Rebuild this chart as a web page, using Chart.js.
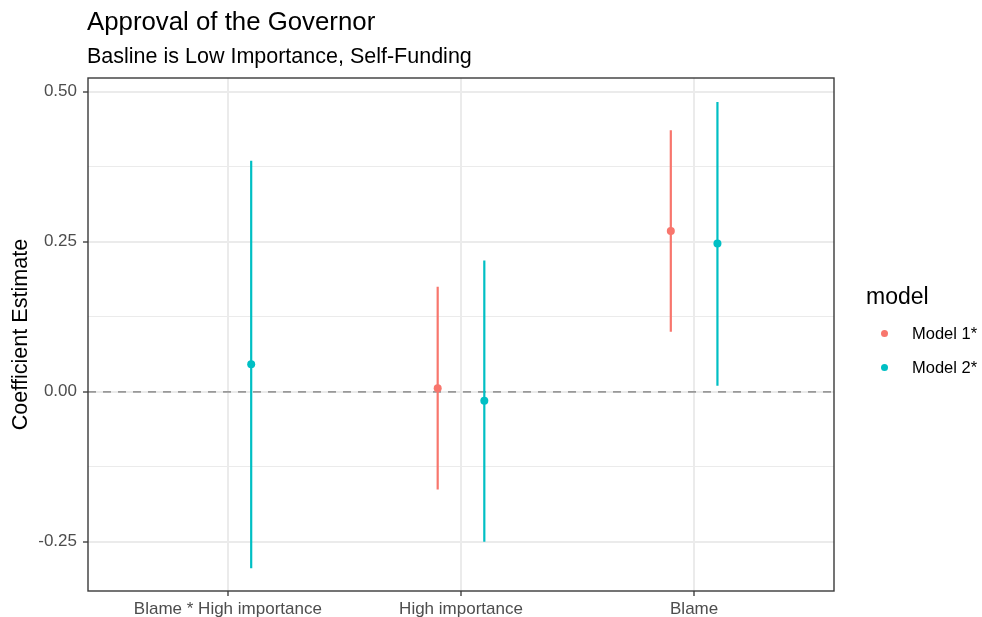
<!DOCTYPE html>
<html>
<head>
<meta charset="utf-8">
<title>Approval of the Governor</title>
<script src="https://cdn.jsdelivr.net/npm/chart.js@4/dist/chart.umd.min.js"></script>
<style>
  html, body { margin: 0; padding: 0; background: #ffffff; }
  #wrap { position: relative; width: 982px; height: 617px; overflow: hidden; font-family: "Liberation Sans", Arial, Helvetica, sans-serif; }
  #chart { position: absolute; left: 0; top: 0; }
  .txt { position: absolute; white-space: nowrap; color: #000; }
  #title { left: 87px; top: 9px; font-size: 25.8px; line-height: 25.8px; }
  #subtitle { left: 87px; top: 46px; font-size: 21.5px; line-height: 21.5px; }
  #legend-title { left: 866px; top: 285px; font-size: 23px; line-height: 23px; }
  .key { position: absolute; width: 7px; height: 7px; border-radius: 50%; }
  .key-label { font-size: 16.5px; line-height: 16.5px; }
</style>
</head>
<body>
<div id="wrap">
  <canvas id="chart" width="982" height="617"></canvas>
  <div class="txt" id="title">Approval of the Governor</div>
  <div class="txt" id="subtitle">Basline is Low Importance, Self-Funding</div>
  <div class="txt" id="legend-title">model</div>
  <div id="legend"></div>
</div>
<script>
// Terms on the x axis
const categories = ['Blame * High importance', 'High importance', 'Blame'];

// Model names and colours
const models = ['Model 1*', 'Model 2*'];
const modelColors = ['#F8766D', '#00BFC4'];

// Model 1 estimates and confidence bounds (interaction term not in Model 1)
const model1Est  = [null, 0.006, 0.268];
const model1Low  = [null, -0.163, 0.100];
const model1High = [null, 0.175, 0.436];

// Model 2 estimates and confidence bounds
const model2Est  = [0.046, -0.015, 0.247];
const model2Low  = [-0.294, -0.250, 0.010];
const model2High = [0.385, 0.219, 0.483];

// Y axis ticks
const yTicks = [-0.25, 0, 0.25, 0.5];
const yTickLabels = ['-0.25', '0.00', '0.25', '0.50'];
const yMinorTicks = [-0.125, 0.125, 0.375];

const dodge = [-0.1, 0.1];
const estimates = [model1Est, model2Est];
const lows = [model1Low, model2Low];
const highs = [model1High, model2High];

function pointData(m) {
  const out = [];
  estimates[m].forEach((v, i) => { if (v !== null) out.push({ x: i + dodge[m], y: v }); });
  return out;
}
function whiskerData(m) {
  const out = [];
  lows[m].forEach((lo, i) => {
    if (lo === null) return;
    const x = i + dodge[m];
    out.push({ x: x, y: lo }, { x: x, y: highs[m][i] }, { x: x, y: null });
  });
  return out;
}

const datasets = [];
models.forEach((name, m) => {
  datasets.push({
    type: 'scatter', label: name, data: pointData(m), order: 0,
    backgroundColor: modelColors[m], borderColor: modelColors[m],
    pointRadius: 4, pointBorderWidth: 0, pointHoverRadius: 4
  });
  datasets.push({
    type: 'line', label: name + ' interval', data: whiskerData(m), order: 1,
    borderColor: modelColors[m], borderWidth: 2.2, pointRadius: 0,
    spanGaps: false, tension: 0, fill: false
  });
});
// Reference line at zero
datasets.push({
  type: 'line', label: 'zero', data: [{ x: -0.6, y: 0 }, { x: 2.6, y: 0 }], order: 2,
  borderColor: '#999999', borderWidth: 1.8, borderDash: [8, 7], pointRadius: 0, fill: false
});

const majorSet = new Set(yTicks);

// Panel border drawn around the plotting area
const panelBorder = {
  id: 'panelBorder',
  afterDraw(chart) {
    const a = chart.chartArea, ctx = chart.ctx;
    ctx.save();
    ctx.strokeStyle = '#3a3a3a';
    ctx.lineWidth = 1.4;
    ctx.strokeRect(a.left, a.top, a.right - a.left, a.bottom - a.top);
    ctx.restore();
  }
};

new Chart(document.getElementById('chart'), {
  data: { datasets: datasets },
  options: {
    responsive: false,
    animation: false,
    devicePixelRatio: 1,
    layout: { padding: { left: 0, top: 78, right: 148, bottom: 0 } },
    plugins: { legend: { display: false }, tooltip: { enabled: false }, title: { display: false } },
    scales: {
      x: {
        type: 'linear', min: -0.6, max: 2.6,
        afterBuildTicks(scale) { scale.ticks = categories.map((c, i) => ({ value: i })); },
        afterFit(scale) { scale.height = 26; },
        ticks: {
          callback: (v) => categories[v],
          color: '#4D4D4D', font: { family: 'Liberation Sans', size: 17 },
          padding: 3, maxRotation: 0, autoSkip: false
        },
        grid: { color: '#EBEBEB', lineWidth: 2, tickColor: '#333333', tickLength: 5, tickWidth: 1.3 },
        border: { display: false }
      },
      y: {
        type: 'linear', min: -0.332, max: 0.523,
        afterBuildTicks(scale) {
          scale.ticks = yTicks.concat(yMinorTicks).sort((a, b) => a - b).map(v => ({ value: v }));
        },
        afterFit(scale) { scale.width = 88; },
        ticks: {
          callback: (v) => { const k = yTicks.indexOf(v); return k >= 0 ? yTickLabels[k] : ''; },
          color: '#4D4D4D', font: { family: 'Liberation Sans', size: 17 }, padding: 6, autoSkip: false
        },
        grid: {
          color: '#EBEBEB',
          lineWidth: (c) => (c.tick && majorSet.has(c.tick.value)) ? 2 : 1,
          tickColor: (c) => (c.tick && majorSet.has(c.tick.value)) ? '#333333' : 'rgba(0,0,0,0)',
          tickLength: 5, tickWidth: 1.3
        },
        border: { display: false },
        title: {
          display: true, text: 'Coefficient Estimate', color: '#000000',
          font: { family: 'Liberation Sans', size: 21.6 }, padding: { top: 8, bottom: 0 }
        }
      }
    }
  },
  plugins: [panelBorder]
});

// Legend keys built from the model list
const legend = document.getElementById('legend');
const keyRows = [333, 367];
models.forEach((name, m) => {
  const dot = document.createElement('div');
  dot.className = 'key';
  dot.style.background = modelColors[m];
  dot.style.left = (884 - 3.5) + 'px';
  dot.style.top = (keyRows[m] - 3.5) + 'px';
  legend.appendChild(dot);
  const lab = document.createElement('div');
  lab.className = 'txt key-label';
  lab.textContent = name;
  lab.style.left = '912px';
  lab.style.top = (keyRows[m] - 8.5) + 'px';
  legend.appendChild(lab);
});
</script>
</body>
</html>
